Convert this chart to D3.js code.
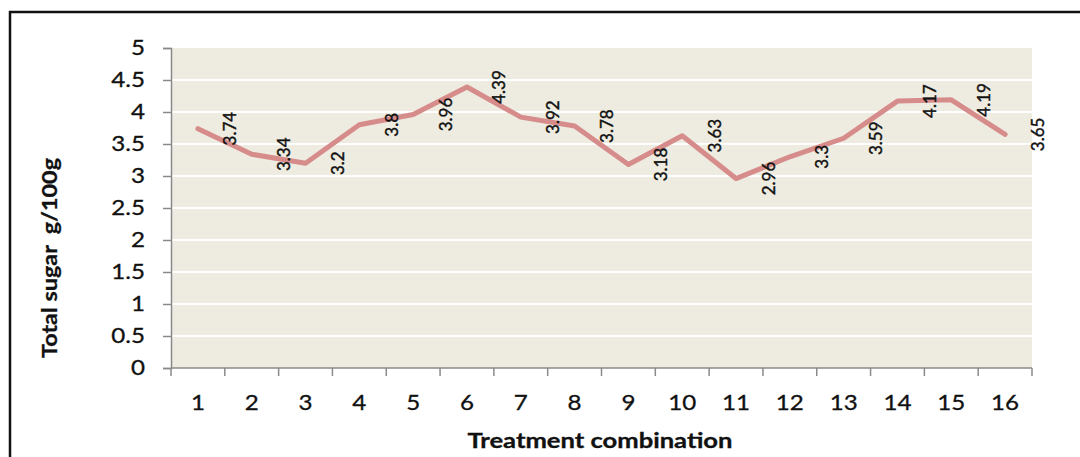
<!DOCTYPE html>
<html>
<head>
<meta charset="utf-8">
<script src="https://cdn.jsdelivr.net/npm/d3@7"></script>
<style>
  html, body { margin: 0; padding: 0; background: #fff; }
  svg { display: block; }
  text { font-family: Lato, "Open Sans", sans-serif; fill: #111; }
</style>
</head>
<body>
<svg id="chart" width="1080" height="457"></svg>
<script>
const categories = ["1","2","3","4","5","6","7","8","9","10","11","12","13","14","15","16"];
const totalSugar = [3.74, 3.34, 3.2, 3.8, 3.96, 4.39, 3.92, 3.78, 3.18, 3.63, 2.96, 3.3, 3.59, 4.17, 4.19, 3.65];
const yTicks = [0, 0.5, 1, 1.5, 2, 2.5, 3, 3.5, 4, 4.5, 5];
const xTitle = "Treatment combination";
const yTitle = "Total sugar  g/100g";

const svg = d3.select("#chart");
const W = 1080, H = 457;
const plot = { left: 171, right: 1032, top: 48, bottom: 368 };
const sx = 1.15; // horizontal stretch of the reference's text

svg.append("rect").attr("x", 0).attr("y", 0).attr("width", W).attr("height", H).attr("fill", "#fff");
// outer frame (right/bottom edges run out of the picture)
svg.append("rect").attr("x", 10).attr("y", 12).attr("width", 1200).attr("height", 600)
  .attr("fill", "none").attr("stroke", "#111").attr("stroke-width", 2.5);

const x = d3.scaleBand().domain(categories).range([plot.left, plot.right]).padding(0);
const y = d3.scaleLinear().domain([0, 5]).range([plot.bottom, plot.top]);

// plot background
svg.append("rect").attr("x", plot.left).attr("y", plot.top)
  .attr("width", plot.right - plot.left).attr("height", plot.bottom - plot.top)
  .attr("fill", "#EEEBE0");

// gridlines
svg.append("g").selectAll("line").data(yTicks.filter(d => d > 0 && d < 5)).join("line")
  .attr("x1", plot.left).attr("x2", plot.right)
  .attr("y1", d => y(d)).attr("y2", d => y(d))
  .attr("stroke", "#fff").attr("stroke-width", 2);

// y axis
const yAxis = svg.append("g").attr("transform", `translate(${plot.left},0)`)
  .call(d3.axisLeft(y).tickValues(yTicks).tickFormat(d3.format("")).tickSize(8).tickPadding(18));
yAxis.select(".domain").attr("stroke", "#8a8a8a").attr("stroke-width", 1.5);
yAxis.selectAll(".tick line").attr("stroke", "#8a8a8a").attr("stroke-width", 1.5);
yAxis.selectAll(".tick text").style("font-size", "21px").style("font-family", "Lato").attr("fill", "#111")
  .attr("stroke", "#111").attr("stroke-width", 0.3)
  .each(function () {
    const t = d3.select(this);
    const xx = +t.attr("x");
    t.attr("x", xx / sx).attr("transform", `scale(${sx},1)`);
  });

// x axis with ticks at band boundaries
const xAxisG = svg.append("g").attr("transform", `translate(0,${plot.bottom})`);
xAxisG.append("line").attr("x1", plot.left).attr("x2", plot.right).attr("y1", 0).attr("y2", 0)
  .attr("stroke", "#8a8a8a").attr("stroke-width", 1.5);
const bounds = categories.map(c => x(c)).concat([x(categories[categories.length - 1]) + x.bandwidth()]);
xAxisG.selectAll("line.tk").data(bounds).join("line").attr("class", "tk")
  .attr("x1", d => d).attr("x2", d => d).attr("y1", 0).attr("y2", 8)
  .attr("stroke", "#8a8a8a").attr("stroke-width", 1.5);
xAxisG.selectAll("text.lbl").data(categories).join("text").attr("class", "lbl")
  .attr("transform", d => `translate(${x(d) + x.bandwidth() / 2},42) scale(${sx},1)`)
  .attr("text-anchor", "middle")
  .style("font-size", "21px")
  .attr("stroke", "#111").attr("stroke-width", 0.3)
  .text(d => d);

// line
const line = d3.line()
  .x((d, i) => x(categories[i]) + x.bandwidth() / 2)
  .y(d => y(d));
svg.append("path").datum(totalSugar)
  .attr("d", line)
  .attr("fill", "none")
  .attr("stroke", "#D68C8B")
  .attr("stroke-width", 5)
  .attr("stroke-linejoin", "round")
  .attr("stroke-linecap", "round");

// data labels (rotated, offset right)
svg.append("g").selectAll("text").data(totalSugar).join("text")
  .attr("transform", (d, i) => `translate(${x(categories[i]) + x.bandwidth() / 2 + 32},${y(d)}) rotate(-90)`)
  .attr("text-anchor", "middle")
  .attr("dominant-baseline", "central")
  .style("font-size", "17px")
  .attr("stroke", "#111").attr("stroke-width", 0.4)
  .text(d => d);

// axis titles
svg.append("text")
  .attr("x", 600).attr("y", 448)
  .attr("text-anchor", "middle")
  .style("font-size", "20px").style("font-weight", "bold")
  .attr("stroke", "#111").attr("stroke-width", 0.3)
  .attr("textLength", 265).attr("lengthAdjust", "spacingAndGlyphs")
  .text(xTitle);

svg.append("text")
  .attr("transform", "translate(57,258) rotate(-90)")
  .attr("text-anchor", "middle")
  .attr("xml:space", "preserve")
  .style("white-space", "pre")
  .style("font-size", "20px").style("font-weight", "bold")
  .attr("stroke", "#111").attr("stroke-width", 0.3)
  .attr("textLength", 200).attr("lengthAdjust", "spacingAndGlyphs")
  .text(yTitle);
</script>
</body>
</html>
